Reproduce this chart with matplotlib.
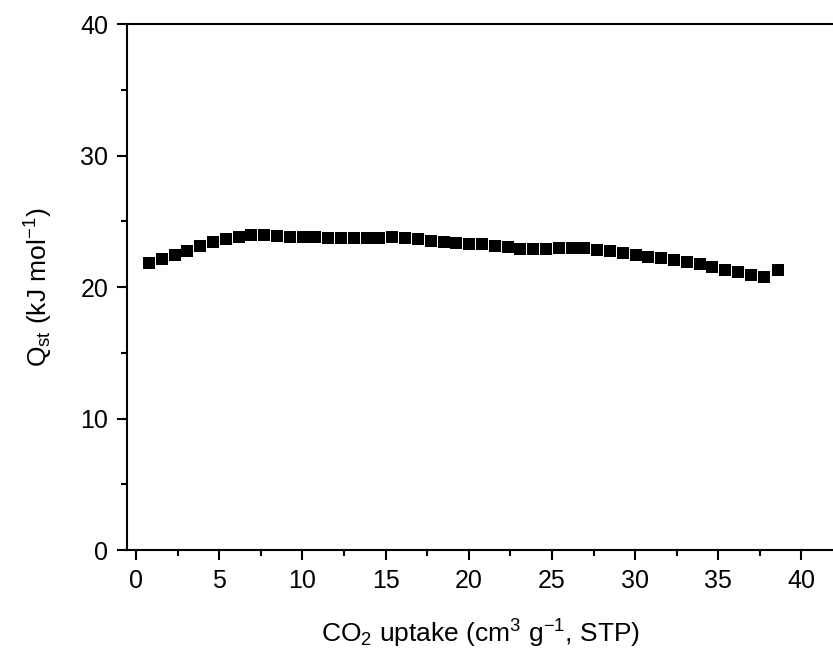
import matplotlib
matplotlib.use('Agg')
import matplotlib.pyplot as plt
from matplotlib.ticker import MultipleLocator

# CO2 uptake (cm3/g, STP) and isosteric heat Qst (kJ/mol)
uptake = [0.77, 1.54, 2.31, 3.08, 3.85, 4.62, 5.39, 6.16, 6.93, 7.70,
          8.47, 9.24, 10.01, 10.78, 11.55, 12.32, 13.09, 13.86, 14.63, 15.40,
          16.17, 16.94, 17.71, 18.48, 19.25, 20.02, 20.79, 21.56, 22.33, 23.10,
          23.87, 24.64, 25.41, 26.18, 26.95, 27.72, 28.49, 29.26, 30.03, 30.80,
          31.57, 32.34, 33.11, 33.88, 34.65, 35.42, 36.19, 36.96, 37.73, 38.60]
qst = [21.85, 22.13, 22.43, 22.74, 23.12, 23.42, 23.62, 23.83, 23.95, 23.95,
       23.90, 23.83, 23.78, 23.78, 23.75, 23.73, 23.73, 23.73, 23.75, 23.78,
       23.75, 23.62, 23.52, 23.42, 23.32, 23.27, 23.25, 23.14, 23.04, 22.92,
       22.92, 22.92, 22.94, 22.94, 22.94, 22.84, 22.74, 22.59, 22.46, 22.31,
       22.18, 22.05, 21.90, 21.72, 21.50, 21.29, 21.12, 20.89, 20.76, 21.29]

plt.rcParams.update({'font.family': 'Liberation Sans',
                     'mathtext.default': 'regular',
                     'font.size': 18})

fig = plt.figure(figsize=(8.33, 6.54), dpi=100)
ax = fig.add_axes([0.1525, 0.159, 0.8475, 0.8043])

ax.plot(uptake, qst, linestyle='none', marker='s', markersize=8,
        markeredgewidth=0, color='black')

ax.set_xlim(-0.55, 41.9)
ax.set_ylim(0, 40)
ax.xaxis.set_major_locator(MultipleLocator(5))
ax.xaxis.set_minor_locator(MultipleLocator(2.5))
ax.yaxis.set_major_locator(MultipleLocator(10))
ax.yaxis.set_minor_locator(MultipleLocator(5))

for side in ['left', 'bottom', 'top']:
    ax.spines[side].set_linewidth(1.5)
ax.spines['right'].set_visible(False)

ax.tick_params(which='major', direction='out', length=7.5, width=1.5,
               labelsize=18, pad=6, top=False, right=False)
ax.tick_params(which='minor', direction='out', length=4, width=1.5,
               top=False, right=False)

ax.set_xlabel('CO$_2$ uptake (cm$^3$ g$^{-1}$, STP)', fontsize=19, labelpad=18)
ax.set_ylabel('Q$_{st}$ (kJ mol$^{-1}$)', fontsize=19, labelpad=18)

fig.savefig('out.png', dpi=100)
